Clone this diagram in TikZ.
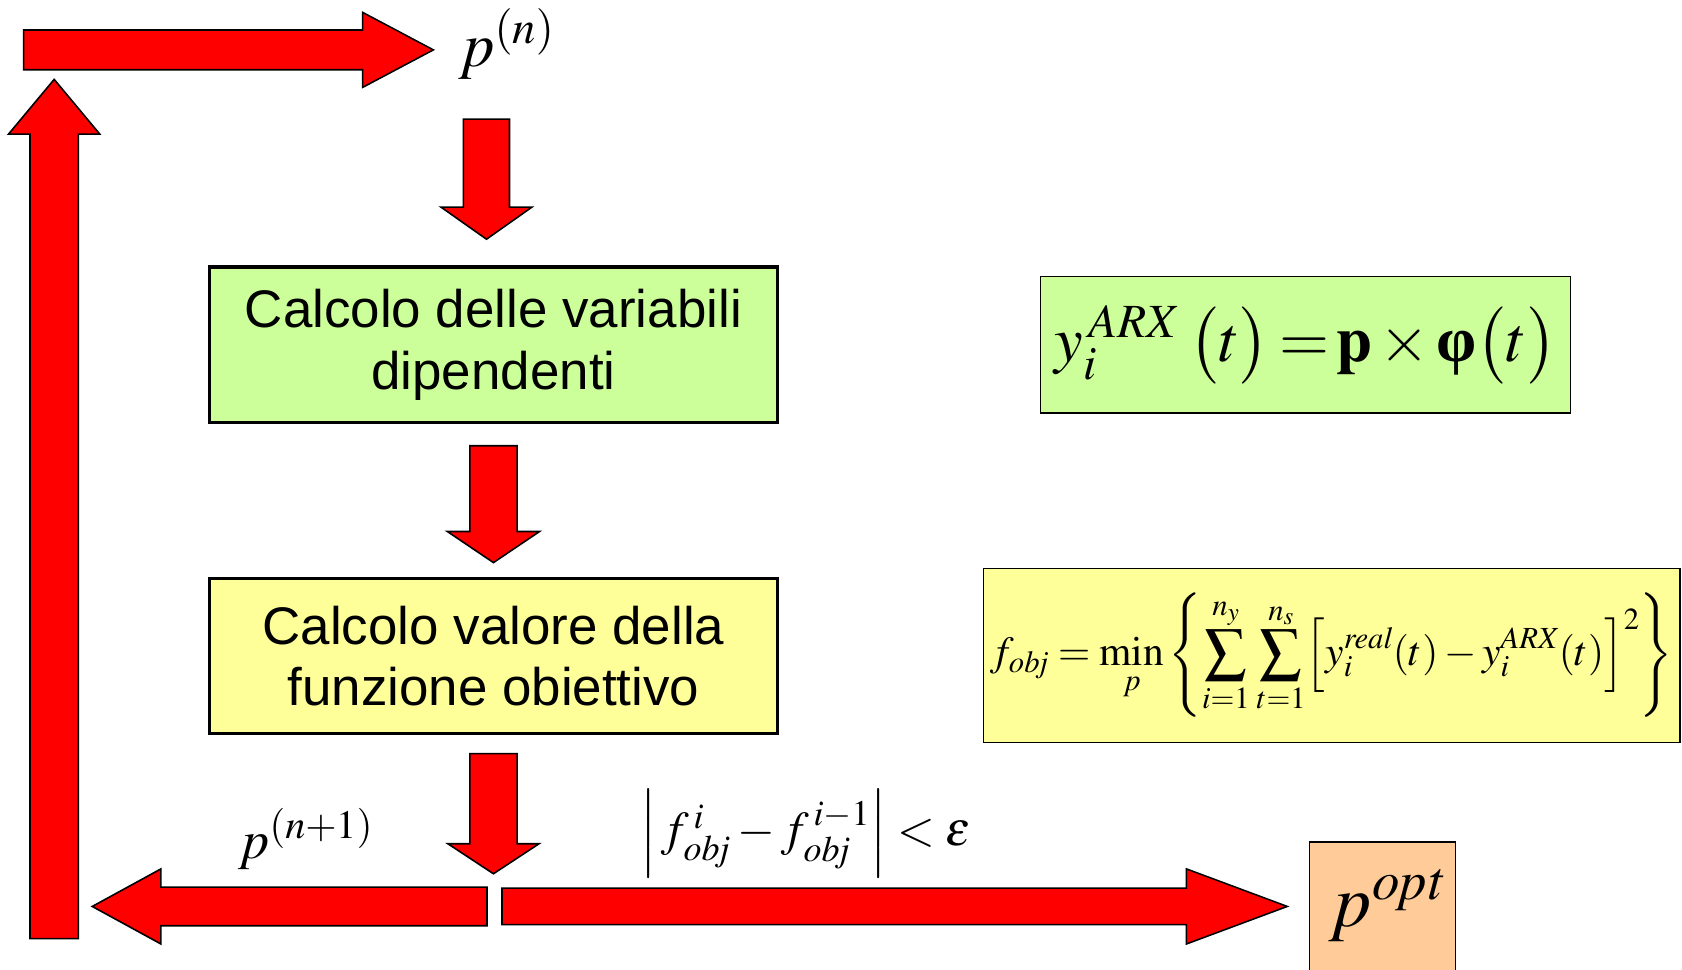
\documentclass[tikz,border=0pt]{standalone}
\usepackage{mathptmx}
\usepackage[no-math]{fontspec}
\setmainfont{Liberation Sans}
\newfontfamily\tnr{Liberation Serif}
\usetikzlibrary{calc}
\definecolor{boxgreen}{HTML}{CCFF99}
\definecolor{boxyellow}{HTML}{FFFF99}
\definecolor{boxorange}{HTML}{FFCC99}
\newcommand\blockarrow[5]{%
  \coordinate (ba-h) at ($(#2)!#5!(#1)$);
  \draw[arr] ($(#1)!#3!90:(#2)$) -- ($(ba-h)!#3!-90:(#1)$) -- ($(ba-h)!#4!-90:(#1)$) -- (#2)
     -- ($(ba-h)!#4!90:(#1)$) -- ($(ba-h)!#3!90:(#1)$) -- ($(#1)!#3!-90:(#2)$) -- cycle;
}
\tikzset{
  arr/.style={fill=red, draw=black, line width=1.1pt, line join=miter},
  flowbox/.style={draw=black, line width=2.3pt, minimum width=397.5pt, minimum height=108.75pt,
    align=center, inner sep=0pt, font=\fontsize{37}{43}\selectfont},
  formbox/.style={draw=black, line width=0.9pt, inner sep=0pt},
  mlabel/.style={inner sep=0pt},
}
\begin{document}
\begin{tikzpicture}[x=0.75pt,y=-0.75pt]
\useasboundingbox (0,0) rectangle (1568,904);
% flow boxes
\node[flowbox, fill=boxgreen] (calc1) at (460,321.5) {Calcolo delle variabili\\dipendenti};
\node[flowbox, fill=boxyellow] (calc2) at (460,611.5) {Calcolo valore della\\funzione obiettivo};
% formula boxes
\node[formbox, fill=boxgreen, minimum width=370.5pt, minimum height=95.25pt,
  font=\fontsize{45}{52}\selectfont] (farx) at (1217,321.5)
  {$y_i^{\,\mathit{ARX}}\mskip3mu\bigl(t\bigr)\mskip3mu{=}\mskip2mu\mathbf{p}\mskip2mu{\times}\mskip2mu\mbox{\tnr\bfseries φ}\bigl(t\bigr)$};
\node[formbox, fill=boxyellow, minimum width=486.75pt, minimum height=121.5pt,
  font=\fontsize{29}{35}\selectfont] (fobj) at (1241.5,611)
  {$\displaystyle f_{\mathit{obj}}\mskip4mu{=}\mskip2mu\min_p\left\{\sum_{i=1}^{n_y}\mskip1mu\sum_{t=1}^{n_s}\!\left[y_i^{\mathit{real}}(t)-y_i^{\mathit{ARX}}(t)\right]^2\right\}$};
% optimum box
\draw[formbox, fill=boxorange] (1221,785) rectangle (1357,912);
\node[mlabel, anchor=base west, font=\fontsize{52}{58}\selectfont] (popt) at (1239,864) {$p^{\mathit{opt}}$};
% labels
\node[mlabel, anchor=base west, font=\fontsize{44}{50}\selectfont] (pn) at (427,62) {$p^{(n)}$};
\node[mlabel, anchor=base west, font=\fontsize{38}{44}\selectfont] (pn1) at (222,800) {$p^{(n+1)}$};
\node[mlabel, font=\fontsize{34}{40}\selectfont] (conv) at (751,777)
  {$\left|\,f_{\mathit{obj}}^{\,i}-f_{\mathit{obj}}^{\,i-1}\right|<\varepsilon$};
% arrow end points
\coordinate (topS) at (22,46.5);
\coordinate (topE) at (404,46.5);
\coordinate (upS) at (50.5,875);
\coordinate (upE) at (50.5,74);
\coordinate (d1S) at (453.5,111);
\coordinate (d1E) at (453.5,223);
\coordinate (d2S) at ($(calc1.south)+(0,20)$);
\coordinate (d2E) at ($(calc2.north)+(0,-13)$);
\coordinate (d3S) at ($(calc2.south)+(0,17)$);
\coordinate (d3E) at ($(calc2.south)+(0,129)$);
\coordinate (lS) at (454,845);
\coordinate (lE) at (86,845);
\coordinate (rS) at (468,845);
\coordinate (rE) at (1200,845);
% block arrows
\blockarrow{topS}{topE}{13.9pt}{26.25pt}{49.5pt}
\blockarrow{upS}{upE}{16.9pt}{31.9pt}{38.25pt}
\blockarrow{d1S}{d1E}{16.1pt}{31.9pt}{22.5pt}
\blockarrow{d2S}{d2E}{16.5pt}{32.25pt}{21.75pt}
\blockarrow{d3S}{d3E}{16.5pt}{31.9pt}{21pt}
\blockarrow{lS}{lE}{13.5pt}{26.25pt}{48pt}
\blockarrow{rS}{rE}{12.75pt}{26.25pt}{70.5pt}
\end{tikzpicture}
\end{document}
